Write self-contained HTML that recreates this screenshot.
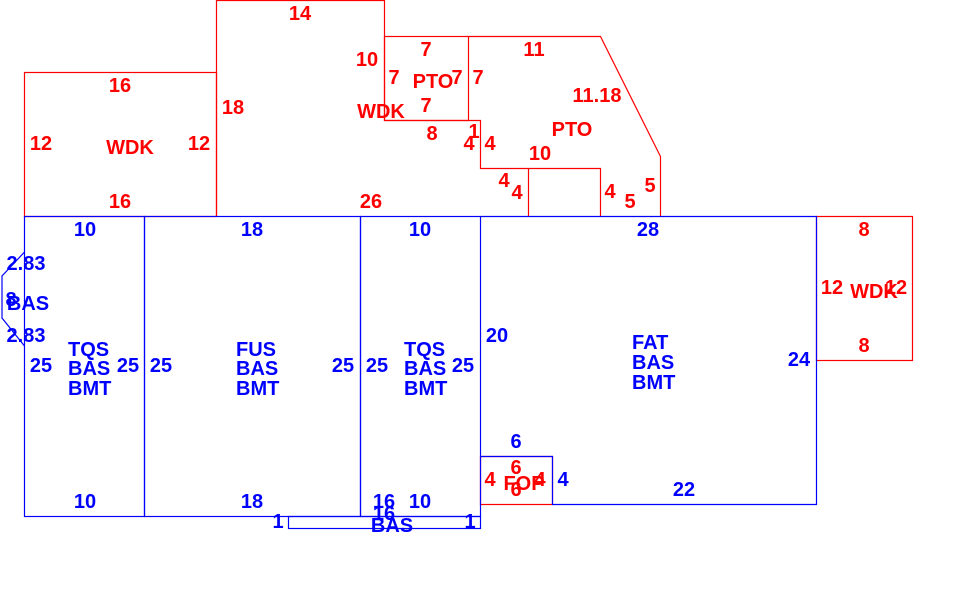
<!DOCTYPE html>
<html><head><meta charset="utf-8"><style>
html,body{margin:0;padding:0;background:#fff;}
svg{display:block;}
text{font-family:"Liberation Sans",Arial,sans-serif;font-weight:bold;font-size:20px;dominant-baseline:central;}
.r{fill:#f00;} .b{fill:#00f;}
.m{text-anchor:middle;}
</style></head><body>
<svg width="980" height="589" viewBox="0 0 980 589">
<g fill="none" stroke="#f00" stroke-width="1.2">
<rect x="24.5" y="72.5" width="192" height="144"/>
<polyline points="216.5,216.5 216.5,0.5 384.5,0.5 384.5,120.5 480.5,120.5 480.5,168.5 600.5,168.5 600.5,216.5"/>
<rect x="384.5" y="36.5" width="84" height="84"/>
<polyline points="468.5,36.5 600.5,36.5 660.5,156.5 660.5,216.5"/>
<line x1="528.5" y1="168.5" x2="528.5" y2="216.5"/>
<rect x="816.5" y="216.5" width="96" height="144"/>
<rect x="480.5" y="456.5" width="72" height="48"/>
</g>
<g fill="none" stroke="#00f" stroke-width="1.2">
<rect x="24.5" y="216.5" width="120" height="300"/>
<rect x="144.5" y="216.5" width="216" height="300"/>
<rect x="360.5" y="216.5" width="120" height="300"/>
<polyline points="480.5,216.5 816.5,216.5 816.5,504.5 552.5,504.5 552.5,456.5 480.5,456.5"/>
<rect x="288.5" y="516.5" width="192" height="12"/>
<polyline points="24.5,252 2,276 2,305 2,318 24.5,346"/>
</g>
<g class="r">
<text class="m" x="300" y="14">14</text>
<text class="m" x="120" y="86">16</text>
<text class="m" x="41" y="144">12</text>
<text class="m" x="130" y="148">WDK</text>
<text class="m" x="199" y="144">12</text>
<text class="m" x="120" y="202">16</text>
<text class="m" x="233" y="108">18</text>
<text class="m" x="371" y="202">26</text>
<text class="m" x="367" y="60">10</text>
<text class="m" x="381" y="112">WDK</text>
<text class="m" x="426" y="50">7</text>
<text class="m" x="394" y="78">7</text>
<text class="m" x="433" y="82">PTO</text>
<text class="m" x="457" y="78">7</text>
<text class="m" x="478" y="78">7</text>
<text class="m" x="426" y="106">7</text>
<text class="m" x="432" y="134">8</text>
<text class="m" x="474" y="132">1</text>
<text class="m" x="469" y="144">4</text>
<text class="m" x="490" y="144">4</text>
<text class="m" x="534" y="50">11</text>
<text class="m" x="597" y="96">11.18</text>
<text class="m" x="572" y="130">PTO</text>
<text class="m" x="540" y="154">10</text>
<text class="m" x="504" y="181">4</text>
<text class="m" x="517" y="193">4</text>
<text class="m" x="610" y="192">4</text>
<text class="m" x="630" y="202">5</text>
<text class="m" x="650" y="186">5</text>
<text class="m" x="864" y="230">8</text>
<text class="m" x="832" y="288">12</text>
<text class="m" x="874" y="292">WDK</text>
<text class="m" x="896" y="288">12</text>
<text class="m" x="864" y="346">8</text>
<text class="m" x="490" y="480">4</text>
<text class="m" x="516" y="468">6</text>
<text class="m" x="524" y="484">FOP</text>
<text class="m" x="540" y="480">4</text>
<text class="m" x="516" y="490">6</text>
</g>
<g class="b">
<text class="m" x="85" y="230">10</text>
<text class="m" x="252" y="230">18</text>
<text class="m" x="420" y="230">10</text>
<text class="m" x="648" y="230">28</text>
<text class="m" x="26" y="264">2.83</text>
<text class="m" x="28" y="304">BAS</text>
<text class="m" x="11" y="300">8</text>
<text class="m" x="26" y="336">2.83</text>
<text class="m" x="41" y="366">25</text>
<text x="68" y="350">TQS</text>
<text x="68" y="369">BAS</text>
<text x="68" y="389">BMT</text>
<text class="m" x="128" y="366">25</text>
<text class="m" x="161" y="366">25</text>
<text x="236" y="350">FUS</text>
<text x="236" y="369">BAS</text>
<text x="236" y="389">BMT</text>
<text class="m" x="343" y="366">25</text>
<text class="m" x="377" y="366">25</text>
<text x="404" y="350">TQS</text>
<text x="404" y="369">BAS</text>
<text x="404" y="389">BMT</text>
<text class="m" x="463" y="366">25</text>
<text class="m" x="497" y="336">20</text>
<text x="632" y="343">FAT</text>
<text x="632" y="363">BAS</text>
<text x="632" y="383">BMT</text>
<text class="m" x="799" y="360">24</text>
<text class="m" x="516" y="442">6</text>
<text class="m" x="563" y="480">4</text>
<text class="m" x="684" y="490">22</text>
<text class="m" x="85" y="502">10</text>
<text class="m" x="252" y="502">18</text>
<text class="m" x="384" y="502">16</text>
<text class="m" x="420" y="502">10</text>
<text class="m" x="384" y="514">16</text>
<text class="m" x="392" y="526">BAS</text>
<text class="m" x="278" y="522">1</text>
<text class="m" x="470" y="522">1</text>
</g>
</svg>
</body></html>
